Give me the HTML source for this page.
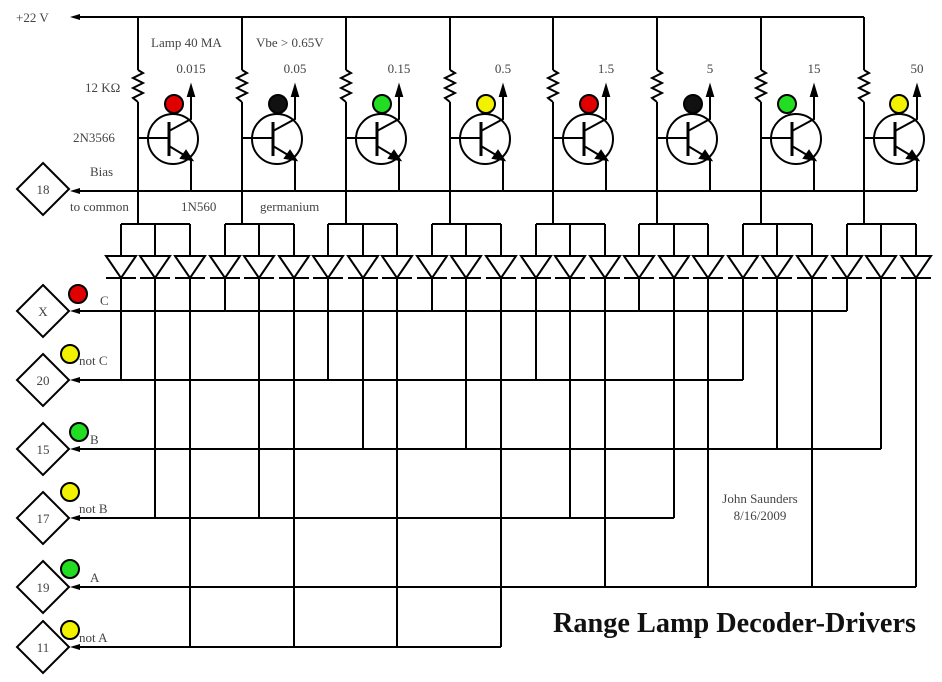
<!DOCTYPE html>
<html><head><meta charset="utf-8"><style>
html,body{margin:0;padding:0;background:#fff}
svg{display:block}
text{font-family:"Liberation Serif",serif;font-size:13px;fill:#444}
</style></head><body>
<svg width="942" height="682" viewBox="0 0 942 682" xmlns="http://www.w3.org/2000/svg">
<defs>
<g id="tr" stroke="#000" stroke-width="2" fill="none">
<line x1="138" y1="17" x2="138" y2="70"/>
<polyline points="138,70 143,73 133,78 143,83 133,88 143,93 133,98 138,102"/>
<line x1="138" y1="102" x2="138" y2="224"/>
<line x1="138" y1="138" x2="169" y2="138"/>
<circle cx="173" cy="139" r="25"/>
<line x1="169" y1="122" x2="169" y2="156" stroke-width="3"/>
<polyline points="169,131 191,119 191,92"/>
<polygon points="191,86 188,96 194,96" fill="#000"/>
<line x1="169" y1="146" x2="184" y2="155"/>
<polygon points="192,160 181,158 186,151" fill="#000"/>
<line x1="191" y1="159" x2="191" y2="191"/>
</g>
<g id="dd" stroke="#000" stroke-width="2" fill="none">
<polygon points="-15,256 15,256 0,278"/>
<line x1="-15" y1="278" x2="15" y2="278"/>
<line x1="0" y1="224" x2="0" y2="256"/>
</g>
</defs>
<g stroke="#000" stroke-width="2" fill="none">
<line x1="76" y1="17" x2="864" y2="17"/>
<line x1="76" y1="191" x2="917" y2="191"/>
<line x1="76" y1="311" x2="847" y2="311"/>
<line x1="76" y1="380" x2="743" y2="380"/>
<line x1="76" y1="449" x2="881" y2="449"/>
<line x1="76" y1="518" x2="674" y2="518"/>
<line x1="76" y1="587" x2="916" y2="587"/>
<line x1="76" y1="647" x2="501" y2="647"/>
<line x1="121" y1="224" x2="190" y2="224"/>
<line x1="225" y1="224" x2="294" y2="224"/>
<line x1="328" y1="224" x2="397" y2="224"/>
<line x1="432" y1="224" x2="501" y2="224"/>
<line x1="536" y1="224" x2="605" y2="224"/>
<line x1="639" y1="224" x2="708" y2="224"/>
<line x1="743" y1="224" x2="812" y2="224"/>
<line x1="847" y1="224" x2="916" y2="224"/>
<line x1="121" y1="278" x2="121" y2="380"/>
<line x1="155" y1="278" x2="155" y2="518"/>
<line x1="190" y1="278" x2="190" y2="647"/>
<line x1="225" y1="278" x2="225" y2="311"/>
<line x1="259" y1="278" x2="259" y2="518"/>
<line x1="294" y1="278" x2="294" y2="647"/>
<line x1="328" y1="278" x2="328" y2="380"/>
<line x1="363" y1="278" x2="363" y2="449"/>
<line x1="397" y1="278" x2="397" y2="647"/>
<line x1="432" y1="278" x2="432" y2="311"/>
<line x1="466" y1="278" x2="466" y2="449"/>
<line x1="501" y1="278" x2="501" y2="647"/>
<line x1="536" y1="278" x2="536" y2="380"/>
<line x1="570" y1="278" x2="570" y2="518"/>
<line x1="605" y1="278" x2="605" y2="587"/>
<line x1="639" y1="278" x2="639" y2="311"/>
<line x1="674" y1="278" x2="674" y2="518"/>
<line x1="708" y1="278" x2="708" y2="587"/>
<line x1="743" y1="278" x2="743" y2="380"/>
<line x1="777" y1="278" x2="777" y2="449"/>
<line x1="812" y1="278" x2="812" y2="587"/>
<line x1="847" y1="278" x2="847" y2="311"/>
<line x1="881" y1="278" x2="881" y2="449"/>
<line x1="916" y1="278" x2="916" y2="587"/>
<polygon points="43,163 69,189 43,215 17,189"/>
<polygon points="43,285 69,311 43,337 17,311"/>
<polygon points="43,354 69,380 43,406 17,380"/>
<polygon points="43,423 69,449 43,475 17,449"/>
<polygon points="43,492 69,518 43,544 17,518"/>
<polygon points="43,561 69,587 43,613 17,587"/>
<polygon points="43,621 69,647 43,673 17,647"/>
</g>
<g fill="#000">
<polygon points="70,17 80,14 80,20"/>
<polygon points="70,191 80,188 80,194"/>
<polygon points="70,311 80,308 80,314"/>
<polygon points="70,380 80,377 80,383"/>
<polygon points="70,449 80,446 80,452"/>
<polygon points="70,518 80,515 80,521"/>
<polygon points="70,587 80,584 80,590"/>
<polygon points="70,647 80,644 80,650"/>
</g>
<use href="#tr"/>
<use href="#tr" transform="translate(104,0)"/>
<use href="#tr" transform="translate(208,0)"/>
<use href="#tr" transform="translate(312,0)"/>
<use href="#tr" transform="translate(415,0)"/>
<use href="#tr" transform="translate(519,0)"/>
<use href="#tr" transform="translate(623,0)"/>
<use href="#tr" transform="translate(726,0)"/>
<g>
<use href="#dd" x="121"/><use href="#dd" x="155"/><use href="#dd" x="190"/>
<use href="#dd" x="225"/><use href="#dd" x="259"/><use href="#dd" x="294"/>
<use href="#dd" x="328"/><use href="#dd" x="363"/><use href="#dd" x="397"/>
<use href="#dd" x="432"/><use href="#dd" x="466"/><use href="#dd" x="501"/>
<use href="#dd" x="536"/><use href="#dd" x="570"/><use href="#dd" x="605"/>
<use href="#dd" x="639"/><use href="#dd" x="674"/><use href="#dd" x="708"/>
<use href="#dd" x="743"/><use href="#dd" x="777"/><use href="#dd" x="812"/>
<use href="#dd" x="847"/><use href="#dd" x="881"/><use href="#dd" x="916"/>
</g>
<g stroke="#000" stroke-width="2">
<circle cx="174" cy="104" r="9" fill="#e00000"/>
<circle cx="278" cy="104" r="9" fill="#111"/>
<circle cx="382" cy="104" r="9" fill="#22dd22"/>
<circle cx="486" cy="104" r="9" fill="#f2f200"/>
<circle cx="589" cy="104" r="9" fill="#e00000"/>
<circle cx="693" cy="104" r="9" fill="#111"/>
<circle cx="787" cy="104" r="9" fill="#22dd22"/>
<circle cx="899" cy="104" r="9" fill="#f2f200"/>
<circle cx="78" cy="294" r="9" fill="#e00000"/>
<circle cx="70" cy="354" r="9" fill="#f2f200"/>
<circle cx="79" cy="432" r="9" fill="#22dd22"/>
<circle cx="70" cy="492" r="9" fill="#f2f200"/>
<circle cx="70" cy="569" r="9" fill="#22dd22"/>
<circle cx="70" cy="630" r="9" fill="#f2f200"/>
</g>
<g text-anchor="middle">
<text x="191" y="73">0.015</text>
<text x="295" y="73">0.05</text>
<text x="399" y="73">0.15</text>
<text x="503" y="73">0.5</text>
<text x="606" y="73">1.5</text>
<text x="710" y="73">5</text>
<text x="814" y="73">15</text>
<text x="917" y="73">50</text>
<text x="43" y="194">18</text>
<text x="43" y="316">X</text>
<text x="43" y="385">20</text>
<text x="43" y="454">15</text>
<text x="43" y="523">17</text>
<text x="43" y="592">19</text>
<text x="43" y="652">11</text>
<text x="760" y="503">John Saunders</text>
<text x="760" y="520">8/16/2009</text>
</g>
<text x="16" y="22">+22 V</text>
<text x="151" y="47">Lamp 40 MA</text>
<text x="256" y="47">Vbe &gt; 0.65V</text>
<text x="85" y="92">12 KΩ</text>
<text x="73" y="142">2N3566</text>
<text x="90" y="176">Bias</text>
<text x="70" y="211">to common</text>
<text x="181" y="211">1N560</text>
<text x="260" y="211">germanium</text>
<text x="100" y="305">C</text>
<text x="79" y="365">not C</text>
<text x="90" y="444">B</text>
<text x="79" y="513">not B</text>
<text x="90" y="582">A</text>
<text x="79" y="642">not A</text>
<text x="553" y="632" textLength="363" lengthAdjust="spacingAndGlyphs" style="font-size:28px;font-weight:bold;fill:#111">Range Lamp Decoder-Drivers</text>
</svg>
</body></html>
